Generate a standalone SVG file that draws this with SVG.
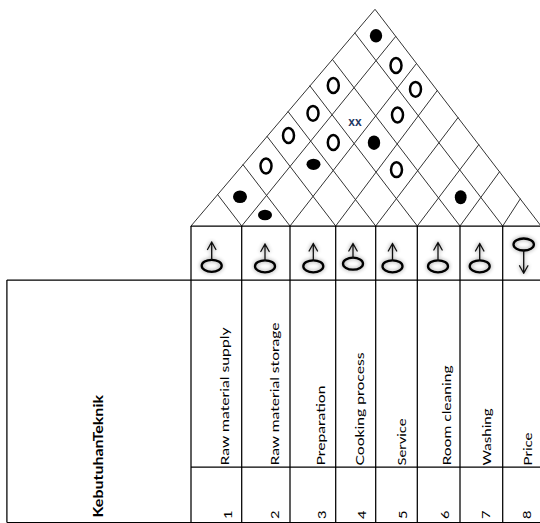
<svg xmlns="http://www.w3.org/2000/svg" width="540" height="523" viewBox="0 0 540 523">
<defs>
<style>
.grid{stroke:#333;stroke-width:1;fill:none;stroke-linecap:round}
.tbl{stroke:#000;stroke-width:1.25;fill:none}
.o{fill:none;stroke:#000;stroke-width:2.5}
.dot{fill:#000}
.ell{fill:none;stroke:#000;stroke-width:2.3}
.stem{fill:none;stroke:#111;stroke-width:1.3;stroke-linecap:round;stroke-linejoin:round}
.lbl{font-family:Lato,'Liberation Sans',sans-serif;font-size:11px;fill:#000}
.num{font-family:Lato,'Liberation Sans',sans-serif;font-size:11.5px;fill:#000}
.head{font-family:Lato,'Liberation Sans',sans-serif;font-size:12.5px;font-weight:bold;fill:#000}
.xx{font-family:'Liberation Sans',Arial,sans-serif;font-size:12px;font-weight:bold;fill:#1f3864}
</style>
<filter id="sh" x="-60%" y="-60%" width="220%" height="220%">
<feGaussianBlur in="SourceAlpha" stdDeviation="2.2"/>
<feComponentTransfer><feFuncA type="linear" slope="0.45"/></feComponentTransfer>
<feMerge><feMergeNode/><feMergeNode in="SourceGraphic"/></feMerge>
</filter>
</defs>
<rect width="540" height="523" fill="#fff"/>

<g id="roof-grid" class="grid">
<path d="M191,226 L375,9.3 L541,226"/>
<path d="M241.7,226 L395.75,36.39 M290,226 L416.5,63.48 M335.7,226 L437.25,90.56 M375.7,226 L458,117.65 M417.3,226 L478.75,144.74 M460,226 L499.5,171.83 M502.7,226 L520.25,198.91"/>
<path d="M241.7,226 L217.65,194.61 M290,226 L243.05,164.7 M335.7,226 L267.07,136.41 M375.7,226 L288.1,111.65 M417.3,226 L309.97,85.89 M460,226 L332.42,59.45 M502.7,226 L354.87,33.01"/>
</g>

<g id="correlations">
<ellipse class="dot" cx="376" cy="35.7" rx="6.2" ry="6.8"/>
<ellipse class="dot" cx="374" cy="142.7" rx="6.2" ry="7.3"/>
<ellipse class="dot" cx="313.5" cy="164.3" rx="7" ry="5.6"/>
<ellipse class="dot" cx="240" cy="196.7" rx="7" ry="6.3"/>
<ellipse class="dot" cx="460.7" cy="197.3" rx="5.9" ry="7"/>
<ellipse class="dot" cx="265" cy="215" rx="7" ry="5.3"/>
<ellipse class="o" cx="396" cy="65.5" rx="5.5" ry="7.4"/>
<ellipse class="o" cx="415.5" cy="89.3" rx="5.5" ry="7.4"/>
<ellipse class="o" cx="333.3" cy="85.5" rx="5.5" ry="7.4"/>
<ellipse class="o" cx="313" cy="113.3" rx="5.5" ry="7.4"/>
<ellipse class="o" cx="397.5" cy="115" rx="5.5" ry="7.4"/>
<ellipse class="o" cx="288.5" cy="135.5" rx="5.5" ry="7.4"/>
<ellipse class="o" cx="333.3" cy="142.5" rx="5.5" ry="7.4"/>
<ellipse class="o" cx="266" cy="166" rx="5.5" ry="7.4"/>
<ellipse class="o" cx="396.5" cy="169.7" rx="5.5" ry="7.4"/>
<text class="xx" x="355" y="126" text-anchor="middle">xx</text>
</g>

<g id="direction-row">
<path class="tbl" d="M191,226 H541 M191,226 V280 M241.7,226 V280 M290,226 V280 M335.7,226 V280 M375.7,226 V280 M417.3,226 V280 M460,226 V280 M502.7,226 V280"/>
<g filter="url(#sh)">
<g id="dir1"><ellipse class="ell" cx="211.7" cy="265.8" rx="10" ry="6"/><path class="stem" d="M211.7,259.8 V242 M207.5,249.5 L211.7,242 L215.9,249.5"/></g>
<g id="dir2"><ellipse class="ell" cx="265" cy="266.3" rx="10" ry="6"/><path class="stem" d="M265,260.3 V244 M260.8,251.5 L265,244 L269.2,251.5"/></g>
<g id="dir3"><ellipse class="ell" cx="313.3" cy="266.3" rx="10" ry="6"/><path class="stem" d="M313.3,260.3 V243.5 M309.1,251 L313.3,243.5 L317.5,251"/></g>
<g id="dir4"><ellipse class="ell" cx="353" cy="263.7" rx="10" ry="6"/><path class="stem" d="M353,257.7 V243.5 M348.8,251 L353,243.5 L357.2,251"/></g>
<g id="dir5"><ellipse class="ell" cx="392.5" cy="266.3" rx="10" ry="6"/><path class="stem" d="M392.5,260.3 V243.5 M388.3,251 L392.5,243.5 L396.7,251"/></g>
<g id="dir6"><ellipse class="ell" cx="438" cy="266.3" rx="10" ry="6"/><path class="stem" d="M438,260.3 V242.5 M433.8,250 L438,242.5 L442.2,250"/></g>
<g id="dir7"><ellipse class="ell" cx="479.7" cy="266.3" rx="10" ry="6"/><path class="stem" d="M479.7,260.3 V243.5 M475.5,251 L479.7,243.5 L483.9,251"/></g>
<g id="dir8"><ellipse class="ell" cx="523.7" cy="244.5" rx="10.2" ry="6"/><path class="stem" d="M523.7,250.5 V273.3 M519.5,265.8 L523.7,273.3 L527.9,265.8"/></g>
</g>
</g>

<g id="table">
<path class="tbl" d="M6.9,280 H541 M6.9,280 V522.5 M6.9,522.5 H541 M191,467 H541 M191,280 V522.5 M241.7,280 V522.5 M290,280 V522.5 M335.7,280 V522.5 M375.7,280 V522.5 M417.3,280 V522.5 M460,280 V522.5 M502.7,280 V522.5"/>
</g>

<g id="header-cell">
<text class="head" transform="translate(103.3,517.5) rotate(-90)" textLength="122.5" lengthAdjust="spacingAndGlyphs">KebutuhanTeknik</text>
</g>

<g id="col1"><text class="lbl" transform="translate(228.5,465.5) rotate(-90)" textLength="138" lengthAdjust="spacingAndGlyphs">Raw material supply</text><text class="num" transform="translate(231.5,519) rotate(-90)" textLength="8.5" lengthAdjust="spacingAndGlyphs">1</text></g>
<g id="col2"><text class="lbl" transform="translate(278.5,465.5) rotate(-90)" textLength="143" lengthAdjust="spacingAndGlyphs">Raw material storage</text><text class="num" transform="translate(279.3,519) rotate(-90)" textLength="8.5" lengthAdjust="spacingAndGlyphs">2</text></g>
<g id="col3"><text class="lbl" transform="translate(325.4,465.5) rotate(-90)" textLength="80" lengthAdjust="spacingAndGlyphs">Preparation</text><text class="num" transform="translate(325.8,519) rotate(-90)" textLength="8.5" lengthAdjust="spacingAndGlyphs">3</text></g>
<g id="col4"><text class="lbl" transform="translate(364.2,465.5) rotate(-90)" textLength="113" lengthAdjust="spacingAndGlyphs">Cooking process</text><text class="num" transform="translate(365.6,519) rotate(-90)" textLength="8.5" lengthAdjust="spacingAndGlyphs">4</text></g>
<g id="col5"><text class="lbl" transform="translate(405.6,465.5) rotate(-90)" textLength="47" lengthAdjust="spacingAndGlyphs">Service</text><text class="num" transform="translate(407,519) rotate(-90)" textLength="8.5" lengthAdjust="spacingAndGlyphs">5</text></g>
<g id="col6"><text class="lbl" transform="translate(450.9,465.5) rotate(-90)" textLength="100" lengthAdjust="spacingAndGlyphs">Room cleaning</text><text class="num" transform="translate(449.3,519) rotate(-90)" textLength="8.5" lengthAdjust="spacingAndGlyphs">6</text></g>
<g id="col7"><text class="lbl" transform="translate(490.9,465.5) rotate(-90)" textLength="57" lengthAdjust="spacingAndGlyphs">Washing</text><text class="num" transform="translate(490.3,519) rotate(-90)" textLength="8.5" lengthAdjust="spacingAndGlyphs">7</text></g>
<g id="col8"><text class="lbl" transform="translate(531.9,465.5) rotate(-90)" textLength="33" lengthAdjust="spacingAndGlyphs">Price</text><text class="num" transform="translate(531.3,519) rotate(-90)" textLength="8.5" lengthAdjust="spacingAndGlyphs">8</text></g>
</svg>
